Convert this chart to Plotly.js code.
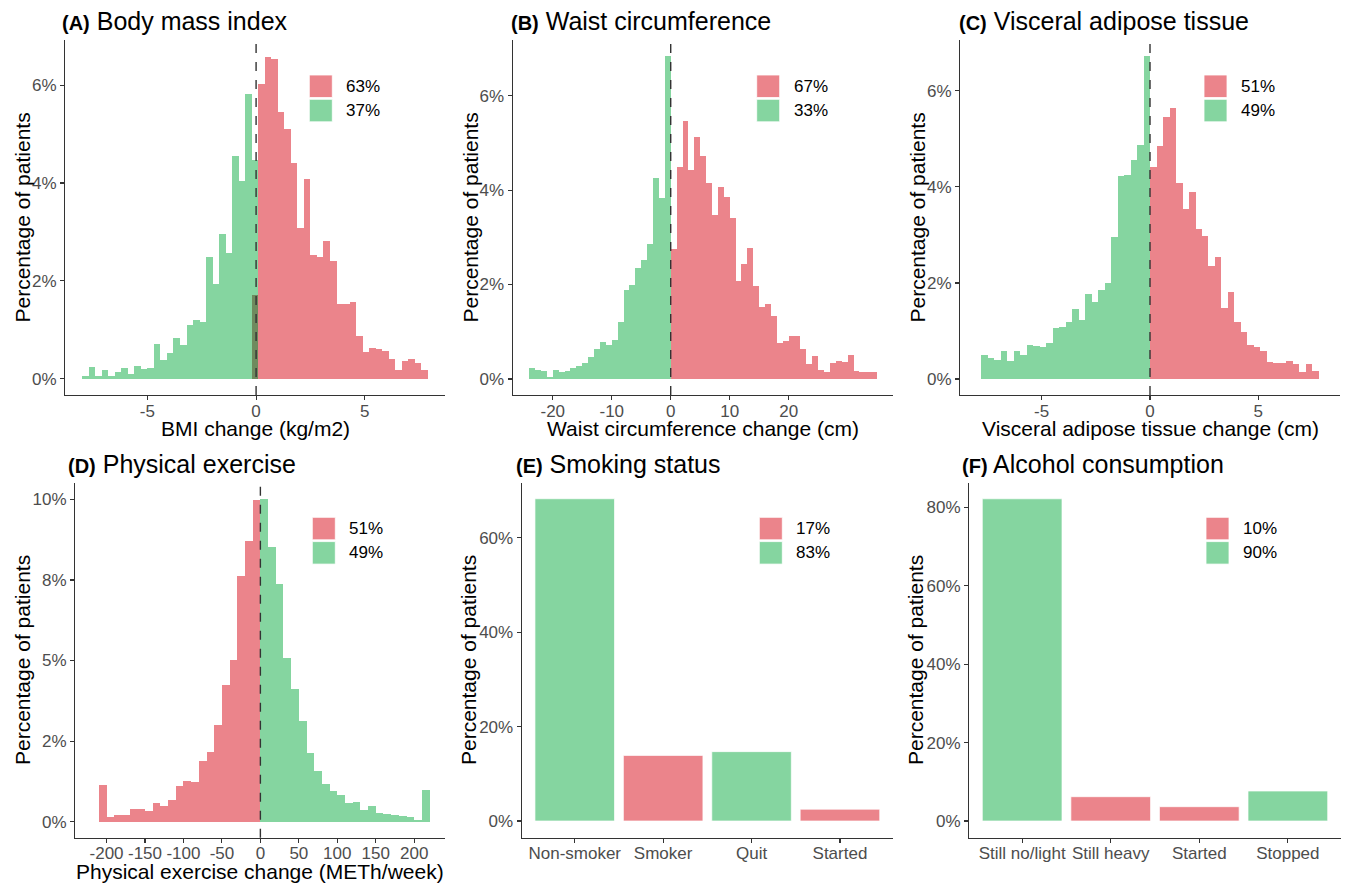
<!DOCTYPE html>
<html><head><meta charset="utf-8">
<script src="https://cdn.plot.ly/plotly-3.0.1.min.js"></script>
<style>html,body{margin:0;padding:0;background:#fff}#chart{width:1346px;height:883px}</style>
</head><body><div id="chart"></div>
<script>
// ---------------- DATA ----------------
// (A) Body mass index change histogram, % of patients per bin
const bmiBinWidth = 0.3;
const bmiDecreaseStart = -8.0;
const bmiDecrease = [0.05,0.24,0.05,0.18,0.05,0.14,0.22,0.10,0.27,0.20,0.23,0.71,0.38,0.52,0.83,0.69,1.10,1.20,1.17,2.49,1.93,2.95,2.58,4.55,4.05,5.81,4.47];
const bmiIncreaseStart = -0.2;
const bmiIncrease = [1.71,6.02,6.58,6.53,5.44,5.11,4.41,3.08,4.09,2.53,2.49,2.81,2.40,1.52,1.52,1.56,0.88,0.54,0.64,0.60,0.56,0.40,0.18,0.37,0.41,0.32,0.18];
const bmiLegend = ["63%","37%"];
const bmiTicks = [-5,0,5];

// (B) Waist circumference change histogram
const waistBinWidth = 1;
const waistDecreaseStart = -24;
const waistDecrease = [0.23,0.20,0.16,0.05,0.19,0.14,0.16,0.24,0.28,0.33,0.46,0.64,0.78,0.72,0.83,1.20,1.88,1.99,2.36,2.53,2.85,4.25,3.83,6.84];
const waistIncreaseStart = 0;
const waistIncrease = [2.75,4.50,5.46,4.42,5.12,4.72,4.16,3.48,4.07,3.86,3.40,2.08,2.43,2.77,1.97,1.52,1.58,1.33,0.77,0.80,0.92,0.91,0.63,0.31,0.49,0.19,0.14,0.33,0.38,0.35,0.51,0.16,0.14,0.14,0.14];
const waistLegend = ["67%","33%"];
const waistTicks = [-20,-10,0,10,20];

// (C) Visceral adipose tissue change histogram
const vatBinWidth = 0.3;
const vatDecreaseStart = -7.8;
const vatDecrease = [0.49,0.44,0.40,0.59,0.38,0.58,0.49,0.71,0.69,0.66,0.76,1.06,1.08,1.19,1.45,1.22,1.78,1.61,1.85,1.99,2.95,4.23,4.25,4.56,4.88,6.73];
const vatIncreaseStart = 0;
const vatIncrease = [4.42,4.85,5.45,5.64,4.08,3.55,3.90,3.12,2.98,2.35,2.55,1.47,1.82,1.19,0.97,0.71,0.66,0.58,0.35,0.34,0.34,0.38,0.31,0.15,0.31,0.17];
const vatLegend = ["51%","49%"];
const vatTicks = [-5,0,5];

// (D) Physical exercise change histogram (decrease = red, increase = green)
const exBinWidth = 10;
const exDecreaseStart = -210;
const exDecrease = [1.15,0.13,0.22,0.19,0.39,0.39,0.34,0.57,0.49,0.67,1.12,1.25,1.22,1.89,2.17,3.00,4.25,5.02,7.63,8.72,9.98];
const exIncreaseStart = 0;
const exIncrease = [10.02,8.51,7.37,5.09,4.12,3.12,2.13,1.56,1.17,0.94,0.82,0.57,0.61,0.36,0.47,0.28,0.24,0.19,0.16,0.13,0.06,0.99];
const exLegend = ["51%","49%"];
const exTicks = [-200,-150,-100,-50,0,50,100,150,200];
const exTickVals = [0,2.5,5,7.5,10];
const exTickText = ["0%","2%","5%","8%","10%"];

// (E) Smoking status
const smokeCats = ["Non-smoker","Smoker","Quit","Started"];
const smokeVals = [68.3,13.9,14.7,2.5];
const smokeGroup = ["good","bad","good","bad"];
const smokeLegend = ["17%","83%"];

// (F) Alcohol consumption
const alcCats = ["Still no/light","Still heavy","Started","Stopped"];
const alcVals = [82.2,6.2,3.65,7.65];
const alcGroup = ["good","bad","bad","good"];
const alcLegend = ["10%","90%"];

// ---------------- STYLE ----------------
const RED = '#EB848B', GREEN = '#85D5A0', OVERLAP = '#6F8A5E';
const FONT = 'Liberation Sans, Arial, sans-serif';
const W = 1346, H = 883;
const px = x => x / W, py = y => 1 - y / H;

function centers(start, width, arr){ return arr.map((_, i) => start + width * (i + 0.5)); }

function histPair(xa, ya, width, gStart, gVals, rStart, rVals){
  const gC = centers(gStart, width, gVals);
  const rC = centers(rStart, width, rVals);
  const gMin = gStart, gMax = gStart + width * gVals.length;
  const rColors = rC.map(c => (c > gMin && c < gMax) ? OVERLAP : RED);
  return [
    {type:'bar', x:gC, y:gVals, width:width, xaxis:xa, yaxis:ya, marker:{color:GREEN, line:{width:0}}, showlegend:false},
    {type:'bar', x:rC, y:rVals, width:width, xaxis:xa, yaxis:ya, marker:{color:rColors, line:{width:0}}, showlegend:false}
  ];
}
function histPairRev(xa, ya, width, rStart, rVals, gStart, gVals){
  const rC = centers(rStart, width, rVals);
  const gC = centers(gStart, width, gVals);
  return [
    {type:'bar', x:rC, y:rVals, width:width, xaxis:xa, yaxis:ya, marker:{color:RED, line:{width:0}}, showlegend:false},
    {type:'bar', x:gC, y:gVals, width:width, xaxis:xa, yaxis:ya, marker:{color:GREEN, line:{width:0}}, showlegend:false}
  ];
}
function catBars(xa, ya, cats, vals, groups){
  return {type:'bar', x:cats, y:vals, width:0.9, xaxis:xa, yaxis:ya,
    marker:{color:groups.map(g => g === 'good' ? GREEN : RED), line:{color:'rgba(255,255,255,0.7)', width:1}}, showlegend:false};
}

const traces = [
  ...histPair('x','y', bmiBinWidth, bmiDecreaseStart, bmiDecrease, bmiIncreaseStart, bmiIncrease),
  ...histPair('x2','y2', waistBinWidth, waistDecreaseStart, waistDecrease, waistIncreaseStart, waistIncrease),
  ...histPair('x3','y3', vatBinWidth, vatDecreaseStart, vatDecrease, vatIncreaseStart, vatIncrease),
  ...histPairRev('x4','y4', exBinWidth, exDecreaseStart, exDecrease, exIncreaseStart, exIncrease),
  catBars('x5','y5', smokeCats, smokeVals, smokeGroup),
  catBars('x6','y6', alcCats, alcVals, alcGroup)
];

const axBase = {showline:true, linecolor:'#333', linewidth:1.1, ticks:'outside', ticklen:4, tickcolor:'#333', tickwidth:1.1,
  showgrid:false, zeroline:false, tickfont:{family:FONT, size:17, color:'#4D4D4D'}, fixedrange:true, tickangle:0};
function xax(domain, anchor, range, tickvals){
  const a = Object.assign({}, axBase, {domain:domain, anchor:anchor, range:range, ticklabelstandoff:-4});
  if (tickvals) { a.tickmode = 'array'; a.tickvals = tickvals; a.ticktext = tickvals.map(v => String(v)); }
  return a;
}
function yax(domain, anchor, range, tickvals, ticktext){
  return Object.assign({}, axBase, {domain:domain, anchor:anchor, range:range, tickmode:'array', tickvals:tickvals,
    ticktext:ticktext || tickvals.map(v => v + '%')});
}

const rowTop = [py(395), py(40)], rowBot = [py(837.7), py(482.7)];
const dom = {
  A:[65,445], B:[512.7,893], C:[960,1340], D:[75,445], E:[521.7,893], F:[969,1341]
};

const layout = {
  width:W, height:H, margin:{l:0,r:0,t:0,b:0}, paper_bgcolor:'#fff', plot_bgcolor:'#fff',
  barmode:'overlay', bargap:0, font:{family:FONT},
  xaxis: xax([px(dom.A[0]), px(dom.A[1])], 'y', [-8.79, 8.69], bmiTicks),
  yaxis: yax(rowTop, 'x', [-0.33, 6.92], [0,2,4,6]),
  xaxis2: xax([px(dom.B[0]), px(dom.B[1])], 'y2', [-26.8, 37.7], waistTicks),
  yaxis2: yax(rowTop, 'x2', [-0.34, 7.18], [0,2,4,6]),
  xaxis3: xax([px(dom.C[0]), px(dom.C[1])], 'y3', [-8.77, 8.77], vatTicks),
  yaxis3: yax(rowTop, 'x3', [-0.333, 7.06], [0,2,4,6]),
  xaxis4: xax([px(dom.D[0]), px(dom.D[1])], 'y4', [-241, 240], exTicks),
  yaxis4: yax(rowBot, 'x4', [-0.5, 10.52], exTickVals, exTickText),
  xaxis5: Object.assign(xax([px(dom.E[0]), px(dom.E[1])], 'y5', [-0.6, 3.6], null), {type:'category'}),
  yaxis5: yax(rowBot, 'x5', [-3.54, 71.7], [0,20,40,60]),
  xaxis6: Object.assign(xax([px(dom.F[0]), px(dom.F[1])], 'y6', [-0.6, 3.6], null), {type:'category'}),
  yaxis6: yax(rowBot, 'x6', [-4.26, 86.3], [0,20,40,60,80]),
  shapes: [], annotations: []
};

// dashed zero lines
['x','x2','x3','x4'].forEach((xa, i) => {
  const ya = ['y','y2','y3','y4'][i];
  layout.shapes.push({type:'line', xref:xa, yref:ya + ' domain', x0:0, x1:0, y0:0, y1:1,
    line:{color:'#333', width:1.4, dash:'dash'}, layer:'above'});
});

// panel titles
const titles = [
  {tag:'(A)', name:'Body mass index', x:60, y:21},
  {tag:'(B)', name:'Waist circumference', x:509, y:21},
  {tag:'(C)', name:'Visceral adipose tissue', x:957, y:21},
  {tag:'(D)', name:'Physical exercise', x:66, y:464},
  {tag:'(E)', name:'Smoking status', x:514, y:464},
  {tag:'(F)', name:'Alcohol consumption', x:960, y:464}
];
titles.forEach(t => layout.annotations.push({
  xref:'paper', yref:'paper', x:px(t.x), y:py(t.y), xanchor:'left', yanchor:'middle', showarrow:false,
  text:'<span style="font-size:20px"><b>' + t.tag + '</b></span> ' + t.name,
  font:{family:FONT, size:25, color:'#000'}
}));

// axis titles
const yTitleText = 'Percentage of patients';
const yTitles = [{x:22, y:217.5}, {x:470, y:217.5}, {x:917, y:217.5}, {x:22, y:660}, {x:468, y:660}, {x:915, y:660}];
yTitles.forEach(t => layout.annotations.push({xref:'paper', yref:'paper', x:px(t.x), y:py(t.y), xanchor:'center', yanchor:'middle',
  textangle:-90, showarrow:false, text:yTitleText, font:{family:FONT, size:21, color:'#000'}}));
const xTitles = [
  {text:'BMI change (kg/m2)', d:dom.A, y:428},
  {text:'Waist circumference change (cm)', d:dom.B, y:428},
  {text:'Visceral adipose tissue change (cm)', d:dom.C, y:428},
  {text:'Physical exercise change (METh/week)', d:dom.D, y:871}
];
xTitles.forEach(t => layout.annotations.push({xref:'paper', yref:'paper', x:px((t.d[0] + t.d[1]) / 2), y:py(t.y),
  xanchor:'center', yanchor:'middle', showarrow:false, text:t.text, font:{family:FONT, size:21, color:'#000'}}));

// custom legends (red key first, green second)
const legends = [
  {labels:bmiLegend, sx:309.3, tx:344, top:75},
  {labels:waistLegend, sx:756.7, tx:791.7, top:75},
  {labels:vatLegend, sx:1204, tx:1238.7, top:75},
  {labels:exLegend, sx:312.3, tx:346.7, top:517.3},
  {labels:smokeLegend, sx:759.3, tx:794, top:517.3},
  {labels:alcLegend, sx:1206, tx:1240.7, top:517.3}
];
legends.forEach(l => {
  [RED, GREEN].forEach((c, k) => {
    const y0 = l.top + k * 24.3;
    layout.shapes.push({type:'rect', xref:'paper', yref:'paper', x0:px(l.sx), x1:px(l.sx + 23), y0:py(y0 + 22.5), y1:py(y0),
      fillcolor:c, line:{color:'#fff', width:0.8}});
    layout.annotations.push({xref:'paper', yref:'paper', x:px(l.tx), y:py(y0 + 11.2), xanchor:'left', yanchor:'middle',
      showarrow:false, text:l.labels[k], font:{family:FONT, size:17, color:'#000'}});
  });
});

Plotly.newPlot('chart', traces, layout, {displayModeBar:false, staticPlot:true});
</script></body></html>
